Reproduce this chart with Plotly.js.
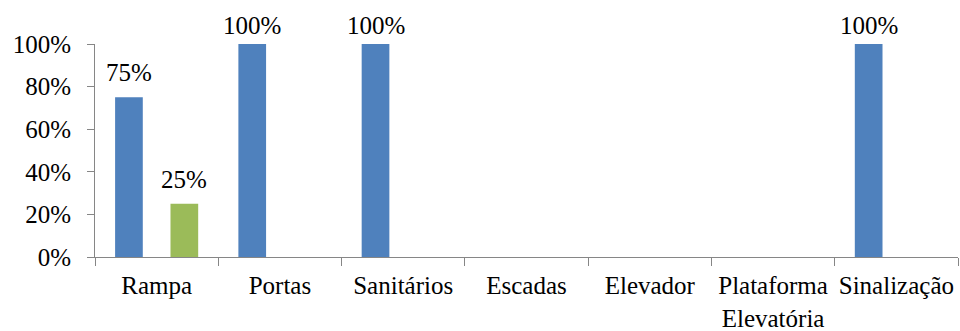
<!DOCTYPE html>
<html>
<head>
<meta charset="utf-8">
<script src="https://cdn.plot.ly/plotly-3.0.1.min.js"></script>
<style>
html,body{margin:0;padding:0;background:#fff;}
#chart{width:960px;height:331px;}
#chart text{font-family:"Liberation Serif","Times New Roman",serif !important;}
</style>
</head>
<body>
<div id="chart"></div>
<script>
const categories = ["Rampa", "Portas", "Sanitários", "Escadas", "Elevador", "Plataforma Elevatória", "Sinalização"];
const tickLabels = ["Rampa", "Portas", "Sanitários", "Escadas", "Elevador", "Plataforma<br>Elevatória", "Sinalização"];
const seriesBlue = [75, 100, 100, 0, 0, 0, 100];
const seriesRed = [0, 0, 0, 0, 0, 0, 0];
const seriesGreen = [25, 0, 0, 0, 0, 0, 0];
const yTickVals = [0, 20, 40, 60, 80, 100];
const yTickLabels = ["0%", "20%", "40%", "60%", "80%", "100%"];

const FONT = "Liberation Serif, Times New Roman, serif";
const FS = 25;

function bar(vals, color) {
  return {
    type: 'bar', x: categories, y: vals,
    marker: {color: color, line: {width: 0}},
    hoverinfo: 'none', showlegend: false
  };
}
const traces = [bar(seriesBlue, '#4F81BD'), bar(seriesRed, '#C0504D'), bar(seriesGreen, '#9BBB59')];

const annotations = [];
function addLabels(vals, xshift) {
  vals.forEach((v, i) => {
    if (v > 0) {
      annotations.push({
        x: categories[i], y: v, xref: 'x', yref: 'y',
        text: v + '%', showarrow: false, xanchor: 'center', yanchor: 'bottom',
        xshift: xshift, yshift: v >= 100 ? 3 : 9,
        font: {family: FONT, size: FS, color: 'black'}
      });
    }
  });
}
addLabels(seriesBlue, -27.5);
addLabels(seriesGreen, 27.5);

const layout = {
  width: 960, height: 331,
  margin: {l: 95, r: 2, t: 44, b: 74},
  paper_bgcolor: '#fff', plot_bgcolor: '#fff',
  barmode: 'group', bargap: 0.326, bargroupgap: 0,
  font: {family: FONT, size: FS, color: 'black'},
  xaxis: {
    type: 'category', tickmode: 'array', tickvals: categories, ticktext: tickLabels, tickangle: 0,
    tickson: 'boundaries', ticks: 'outside', ticklen: 8, tickcolor: '#868686', tickwidth: 1,
    ticklabelstandoff: 6,
    showline: true, linecolor: '#868686', linewidth: 1, showgrid: false, zeroline: false,
    tickfont: {family: FONT, size: FS, color: 'black'}
  },
  yaxis: {
    range: [0, 100], tickmode: 'array', tickvals: yTickVals, ticktext: yTickLabels,
    ticks: 'outside', ticklen: 7, tickcolor: '#868686', tickwidth: 1, ticklabelstandoff: 11,
    showline: true, linecolor: '#868686', linewidth: 1, showgrid: false, zeroline: false,
    tickfont: {family: FONT, size: FS, color: 'black'}
  },
  annotations: annotations
};
Plotly.newPlot('chart', traces, layout, {displayModeBar: false});
</script>
</body>
</html>
